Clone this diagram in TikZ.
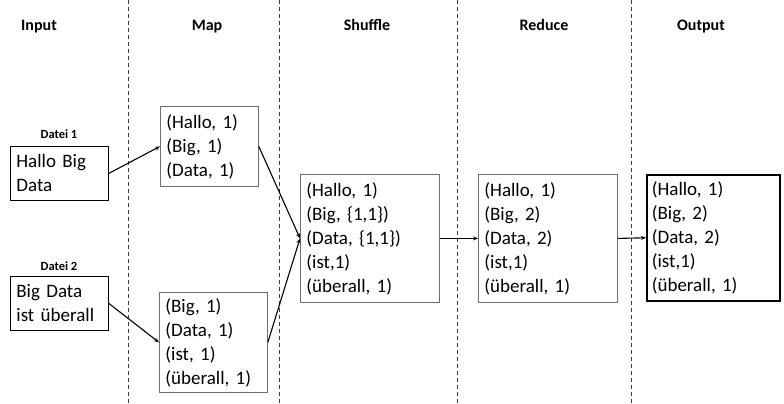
\documentclass[tikz,border=0pt]{standalone}
\usepackage{fontspec}
\setmainfont{Carlito}
\usetikzlibrary{arrows.meta,positioning}

\begin{document}
\frenchspacing
\begin{tikzpicture}[x=1pt,y=1pt,yscale=-1,xscale=1,
  box/.style = {draw={rgb,255:red,110;green,110;blue,110}, line width=0.8pt,
  anchor=north west, align=left, inner xsep=6pt, inner ysep=0pt,
  font=\fontsize{19}{24}\selectfont},
  head/.style = {anchor=base, font=\bfseries\fontsize{16}{18}\selectfont},
  file/.style = {anchor=base, font=\bfseries\fontsize{12.5}{14}\selectfont},
  sep/.style = {draw={rgb,255:red,60;green,60;blue,60}, line width=0.8pt,
  dash pattern=on 4pt off 3pt},
  flow/.style = {->, line width=1.1pt},
  >={Stealth[length=5pt,width=4pt]}
  ]
  \useasboundingbox (0,0) rectangle (784,404);

  \foreach \x in {128,279,457,631}
    \draw[sep] (\x,0) -- (\x,404);

  \node[head] (hin) at (39,31) {Input};
  \node[head] (hmap) at (207,31) {Map};
  \node[head] (hshuf) at (367,31) {Shuffle};
  \node[head] (hred) at (544,31) {Reduce};
  \node[head] (hout) at (701,31) {Output};

  \node[file] (f1) at (59,138) {Datei 1};
  \node[file] (f2) at (59,270) {Datei 2};

  \node[box, draw=black, text width=86pt, minimum height=54pt] (in1) at (10,146) {Hallo Big\\Data};
  \node[box, draw=black, text width=86pt, minimum height=54pt] (in2) at (10,276) {Big Data\\ist überall};

  \node[box, text width=86pt, minimum height=80pt] (map1) at (160,106) {(Hallo, 1)\\(Big, 1)\\(Data, 1)};
  \node[box, text width=96pt, minimum height=100pt] (map2) at (159,292) {(Big, 1)\\(Data, 1)\\(ist, 1)\\(überall, 1)};

  \node[box, text width=127pt, minimum height=128pt] (shuf) at (300,174) {(Hallo, 1)\\(Big, \{1,1\})\\(Data, \{1,1\})\\(ist,1)\\(überall, 1)};
  \node[box, text width=127pt, minimum height=128pt] (red) at (478,174) {(Hallo, 1)\\(Big, 2)\\(Data, 2)\\(ist,1)\\(überall, 1)};
  \node[box, draw=black, line width=1.6pt, inner xsep=5pt, text width=123pt, minimum height=126pt] (out) at (646,174) {(Hallo, 1)\\(Big, 2)\\(Data, 2)\\(ist,1)\\(überall, 1)};

  \draw[flow] (in1.east) -- (map1.west);
  \draw[flow] (in2.east) -- (map2.west);
  \draw[flow] (map1.east) -- (shuf.west);
  \draw[flow] (map2.east) -- (shuf.west);
  \draw[flow] (shuf.east) -- (red.west);
  \draw[flow] (red.east) -- (out.west);

\end{tikzpicture}
\end{document}
